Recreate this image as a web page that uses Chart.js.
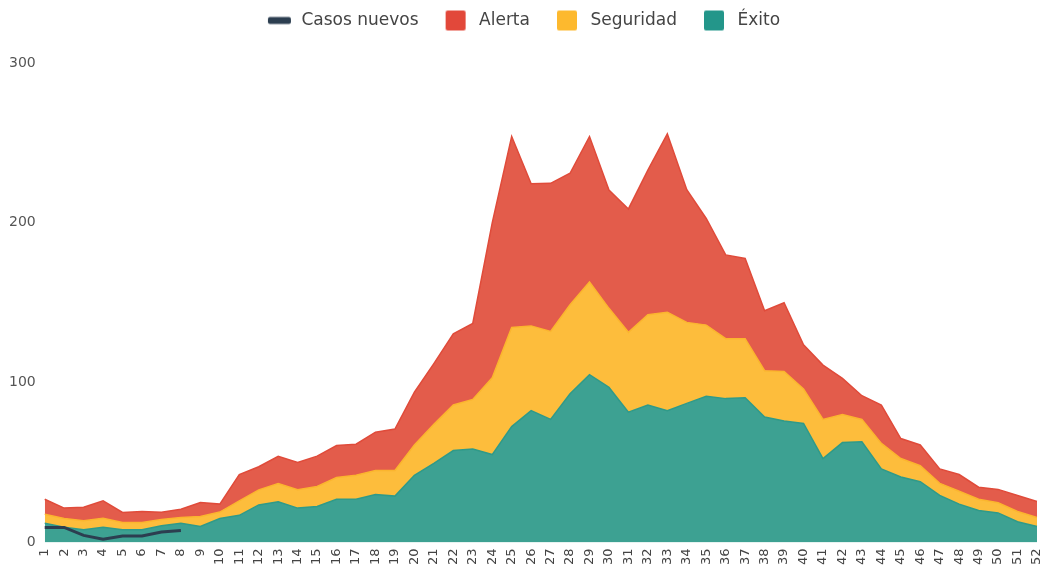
<!DOCTYPE html>
<html>
<head>
<meta charset="utf-8">
<script src="https://cdn.jsdelivr.net/npm/chart.js@4"></script>
<style>
  html, body { margin: 0; padding: 0; background: #fff; }
  #wrap { width: 1047px; height: 567px; position: relative; }
</style>
</head>
<body>
<div id="wrap"><canvas id="myAreaChart"></canvas></div>
<script>
const weeks = [];
for (let i = 1; i <= 52; i++) weeks.push(String(i));

const exito = [12, 9.5, 8, 9.5, 8, 8, 10.5, 12, 10, 15, 17, 23.5, 25.5, 21.5, 22.5, 27, 27, 30, 29, 42,
  49.5, 57.5, 58.5, 55, 72.5, 82.5, 77, 93, 105, 97, 81.5, 86, 82.5, 87, 91.5, 90, 90.5, 78.5, 76, 74.5,
  52.5, 62.5, 63, 46, 41, 38, 29.5, 24, 20, 18.5, 13, 10];
const seguridad = [5.7, 5.5, 5.6, 5.7, 4.5, 4.5, 3.8, 3.6, 6.2, 4, 9, 9.4, 11.4, 11.5, 12.5, 13.6, 15, 15, 16, 19,
  24.4, 28.5, 31, 48, 62, 53, 55, 55.7, 58, 49.5, 50, 56.5, 61.5, 50.7, 44.5, 37.5, 37, 29, 31, 21.5,
  24.5, 17.5, 14, 16, 11.5, 10, 7.5, 8, 7, 6.3, 6.4, 5.6];
const alerta = [9.3, 6.5, 8.4, 10.8, 6.3, 6.9, 4.6, 5.2, 8.8, 5, 16.5, 14.5, 17, 17, 19, 20, 19.5, 24, 26, 33,
  38, 44.6, 47.5, 97, 119.5, 89, 92.7, 82.3, 91, 74, 77.2, 90.5, 111.6, 83, 66.7, 52.4, 50.2, 37.5, 43, 27.7,
  34, 22.7, 14.8, 24, 12.5, 13, 9, 10.5, 7.6, 8.4, 10, 10];
const casosNuevos = [9.4, 9.4, 4.4, 2, 4, 4, 6.5, 7.5];

const yTicks = [0, 100, 200, 300];

// legend markers: box drawn off-centre inside a wider canvas so the gaps match
const MARK_W = 42;
function legendMark(color, w, h) {
    const c = document.createElement('canvas');
    c.width = MARK_W;
    c.height = 22;
    const g = c.getContext('2d');
    g.fillStyle = color;
    g.beginPath();
    g.roundRect(17, (22 - h) / 2, w, h, 2);
    g.fill();
    return c;
}

// push the plot down below the legend, and re-centre the legend row
const legendGap = {
    id: 'legendGap',
    beforeInit(chart) {
        const fit = chart.legend.fit;
        chart.legend.fit = function () {
            fit.bind(chart.legend)();
            this.height += 24;
            if (this.lineWidths && this.lineWidths.length) this.lineWidths[0] += 16;
        };
    }
};

const ctx = document.getElementById('myAreaChart');

new Chart(ctx, {
    type: 'line',
    data: {
        labels: weeks,
        datasets: [
            {
                label: 'Éxito',
                data: exito,
                stack: 'areas',
                fill: 'origin',
                backgroundColor: '#3da192',
                borderColor: '#2f9a89',
                borderWidth: 1.5,
                tension: 0,
                pointRadius: 0
            },
            {
                label: 'Seguridad',
                data: seguridad,
                stack: 'areas',
                fill: '-1',
                backgroundColor: '#fdbd3c',
                borderColor: '#fbb52e',
                borderWidth: 1.5,
                tension: 0,
                pointRadius: 0
            },
            {
                label: 'Alerta',
                data: alerta,
                stack: 'areas',
                fill: '-1',
                backgroundColor: '#e35c4b',
                borderColor: '#e04b3a',
                borderWidth: 1.5,
                tension: 0,
                pointRadius: 0
            },
            {
                label: 'Casos nuevos',
                data: casosNuevos,
                stack: 'casos',
                order: -1,
                fill: false,
                backgroundColor: '#2c3e50',
                borderColor: '#2c3e50',
                borderWidth: 3,
                tension: 0,
                pointRadius: 0
            }
        ]
    },
    options: {
        responsive: true,
        maintainAspectRatio: false,
        animation: false,
        layout: {
            padding: { left: 0, right: 0, top: 2, bottom: -4 }
        },
        scales: {
            x: {
                stacked: true,
                grid: { display: false, drawTicks: false },
                border: { display: false },
                afterFit: (scale) => { scale.paddingRight = 10; },
                ticks: {
                    autoSkip: false,
                    minRotation: 90,
                    maxRotation: 90,
                    padding: 6,
                    color: '#444',
                    font: { family: 'DejaVu Sans', size: 13 }
                }
            },
            y: {
                stacked: true,
                min: 0,
                max: 300,
                afterBuildTicks: (axis) => { axis.ticks = yTicks.map(v => ({ value: v })); },
                grid: { display: false, drawTicks: false },
                border: { display: false },
                ticks: {
                    padding: 9,
                    color: '#555',
                    font: { family: 'DejaVu Sans', size: 14 }
                }
            }
        },
        plugins: {
            legend: {
                display: true,
                position: 'top',
                labels: {
                    usePointStyle: true,
                    pointStyleWidth: MARK_W,
                    boxHeight: 20,
                    padding: 10,
                    color: '#444',
                    font: { family: 'DejaVu Sans', size: 17 },
                    sort: (a, b) => b.datasetIndex - a.datasetIndex,
                    generateLabels: (chart) => {
                        const items = Chart.defaults.plugins.legend.labels.generateLabels(chart);
                        const marks = [
                            legendMark('#23968a', 20, 20),
                            legendMark('#fdb92e', 20, 20),
                            legendMark('#e2483a', 20, 20),
                            legendMark('#2c3e50', 23, 7)
                        ];
                        items.forEach(it => {
                            it.pointStyle = marks[it.datasetIndex];
                            it.lineWidth = 0;
                        });
                        return items;
                    }
                }
            },
            tooltip: { enabled: false }
        }
    },
    plugins: [legendGap]
});
</script>
</body>
</html>
